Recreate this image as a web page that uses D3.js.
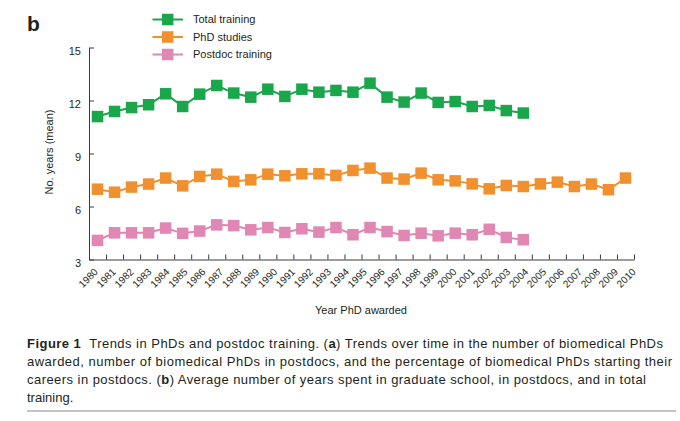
<!DOCTYPE html>
<html>
<head>
<meta charset="utf-8">
<script src="https://cdn.jsdelivr.net/npm/d3@7"></script>
<style>
  body { margin: 0; background: #fff; }
  svg { display: block; font-family: "Liberation Sans", Arial, Helvetica, sans-serif; }
</style>
</head>
<body>
<svg width="680" height="421"></svg>
<script>
// x tick labels (the plotted points sit in 32 slots, the labels run 1980-2010)
const yearLabels = ['1980', '1981', '1982', '1983', '1984', '1985', '1986', '1987', '1988', '1989',
  '1990', '1991', '1992', '1993', '1994', '1995', '1996', '1997', '1998', '1999',
  '2000', '2001', '2002', '2003', '2004', '2005', '2006', '2007', '2008', '2009', '2010']
const yTicks = [3, 6, 9, 12, 15]

const seriesNames = ['Total training', 'PhD studies', 'Postdoc training']

// mean years
const totalTraining = [11.09, 11.38, 11.60, 11.76, 12.38, 11.66, 12.36, 12.85, 12.42, 12.19,
  12.64, 12.23, 12.64, 12.47, 12.57, 12.47, 12.98, 12.19, 11.91, 12.42,
  11.89, 11.94, 11.66, 11.72, 11.43, 11.29]
const phdStudies = [6.98, 6.81, 7.10, 7.27, 7.61, 7.17, 7.70, 7.83, 7.42, 7.51,
  7.83, 7.74, 7.85, 7.85, 7.76, 8.04, 8.17, 7.61, 7.55, 7.89,
  7.51, 7.45, 7.28, 7.00, 7.19, 7.13, 7.28, 7.38, 7.13, 7.27,
  6.95, 7.61]
const postdocTraining = [4.08, 4.51, 4.51, 4.51, 4.78, 4.48, 4.61, 4.96, 4.92, 4.68,
  4.81, 4.53, 4.74, 4.55, 4.81, 4.40, 4.81, 4.58, 4.36, 4.49,
  4.34, 4.49, 4.40, 4.71, 4.25, 4.12]

const colors = ['#1aa64b', '#f0902f', '#e087b3']
const series = [totalTraining, phdStudies, postdocTraining].map((values, i) => ({
  name: seriesNames[i], values, color: colors[i]
}))

const svg = d3.select('svg')
const textColor = '#231f20'
const axisColor = '#3a3a3a'

// panel letter
svg.append('text')
  .attr('x', 27).attr('y', 31)
  .attr('font-size', 21).attr('font-weight', 'bold')
  .attr('fill', textColor)
  .text('b')

// scales
const slotCount = phdStudies.length
const xScale = d3.scaleBand()
  .domain(d3.range(slotCount))
  .range([89, 634])
const xEdge = d3.scaleLinear().domain([0, slotCount]).range(xScale.range())
const xLabel = d3.scalePoint().domain(yearLabels).range([97, 635])
const yScale = d3.scaleLinear().domain([3, 15]).range([259.5, 47.5])

// y axis, ticks pointing inwards
const yAxis = svg.append('g')
  .attr('transform', 'translate(89,0)')
  .call(d3.axisLeft(yScale).tickValues(yTicks).tickSizeInner(-5).tickSizeOuter(0).tickPadding(8))
yAxis.select('.domain').attr('stroke', axisColor)
yAxis.selectAll('.tick line').attr('stroke', axisColor)
yAxis.selectAll('.tick text')
  .attr('font-size', 11)
  .attr('font-family', '"Liberation Sans", Arial, sans-serif')
  .attr('fill', textColor)
  .attr('dy', '0.6em')

// x axis: ticks on slot edges
const xAxis = svg.append('g')
  .attr('transform', 'translate(0,259.5)')
  .call(d3.axisBottom(xEdge).tickValues(d3.range(1, slotCount + 1)).tickSizeInner(-5).tickSizeOuter(0).tickFormat(''))
xAxis.select('.domain').attr('stroke', axisColor)
xAxis.selectAll('.tick line').attr('stroke', axisColor)

// rotated year labels
const labelAxis = svg.append('g')
  .attr('transform', 'translate(0,259.5)')
  .call(d3.axisBottom(xLabel).tickSize(0))
labelAxis.select('.domain').remove()
labelAxis.selectAll('.tick text')
  .attr('font-size', 10)
  .attr('font-family', '"Liberation Sans", Arial, sans-serif')
  .attr('fill', textColor)
  .attr('text-anchor', 'end')
  .attr('x', 0).attr('y', 0).attr('dy', null)
  .attr('transform', 'translate(1,13) rotate(-45)')

// axis titles
svg.append('text')
  .attr('transform', 'translate(53,152) rotate(-90)')
  .attr('text-anchor', 'middle')
  .attr('font-size', 11)
  .attr('fill', textColor)
  .text('No. years (mean)')

svg.append('text')
  .attr('x', 361).attr('y', 314)
  .attr('text-anchor', 'middle')
  .attr('font-size', 11)
  .attr('fill', textColor)
  .text('Year PhD awarded')

// lines + square markers
const line = d3.line()
  .x((d, i) => xScale(i) + xScale.bandwidth() / 2)
  .y(d => yScale(d))

const markerSize = 11.5
const groups = svg.selectAll('.series')
  .data(series)
  .enter()
  .append('g')
  .classed('series', true)

groups.append('path')
  .attr('d', d => line(d.values))
  .attr('fill', 'none')
  .attr('stroke', d => d.color)
  .attr('stroke-width', 2)

groups.selectAll('rect')
  .data(d => d.values.map((v, i) => ({ v, i, color: d.color })))
  .enter()
  .append('rect')
  .attr('x', d => xScale(d.i) + xScale.bandwidth() / 2 - markerSize / 2)
  .attr('y', d => yScale(d.v) - markerSize / 2)
  .attr('width', markerSize)
  .attr('height', markerSize)
  .attr('fill', d => d.color)

// legend
const legend = svg.selectAll('.legend')
  .data(series)
  .enter()
  .append('g')
  .classed('legend', true)
  .attr('transform', (d, i) => `translate(0,${19.5 + i * 17.5})`)
legend.append('line')
  .attr('x1', 152.5).attr('x2', 183)
  .attr('stroke', d => d.color).attr('stroke-width', 2)
legend.append('rect')
  .attr('x', 167.7 - markerSize / 2).attr('y', -markerSize / 2)
  .attr('width', markerSize).attr('height', markerSize)
  .attr('fill', d => d.color)
legend.append('text')
  .attr('x', 193).attr('dy', '0.36em')
  .attr('font-size', 11)
  .attr('fill', textColor)
  .text(d => d.name)

// caption
const captionLines = [
  [['Figure 1', true], ['\u00a0 Trends in PhDs and postdoc training. (', false], ['a', true], [') Trends over time in the number of biomedical PhDs', false]],
  [['awarded, number of biomedical PhDs in postdocs, and the percentage of biomedical PhDs starting their', false]],
  [['careers in postdocs. (', false], ['b', true], [') Average number of years spent in graduate school, in postdocs, and in total', false]],
  [['training.', false]]
]
const captionEnds = [663, 672, 646, null]

captionLines.forEach((parts, li) => {
  const t = svg.append('text')
    .attr('x', 27).attr('y', 347.5 + li * 18.3)
    .attr('font-size', 13)
    .attr('fill', textColor)
  parts.forEach(([str, bold]) => {
    t.append('tspan').attr('font-weight', bold ? 'bold' : null).text(str)
  })
  if (captionEnds[li]) {
    const len = t.node().getComputedTextLength()
    const chars = parts.map(p => p[0]).join('').length
    t.attr('letter-spacing', (captionEnds[li] - 27 - len) / (chars - 1))
  }
})

svg.append('line')
  .attr('x1', 27).attr('x2', 676)
  .attr('y1', 411).attr('y2', 411)
  .attr('stroke', '#8a8a8a').attr('stroke-width', 1.2)
</script>
</body>
</html>
